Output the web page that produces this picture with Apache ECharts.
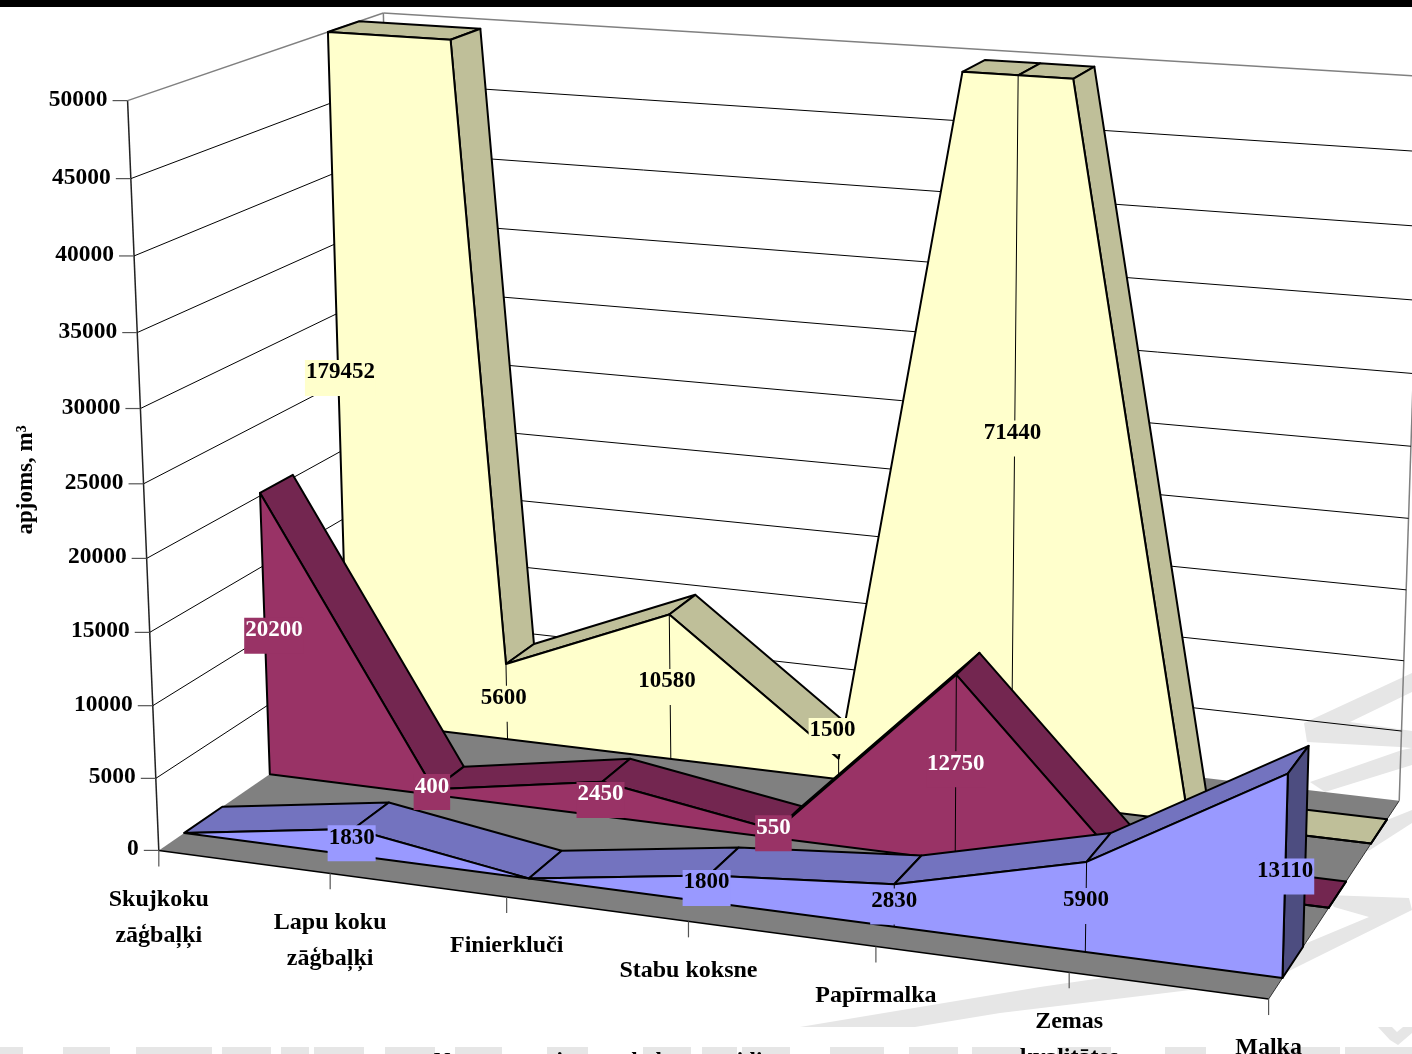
<!DOCTYPE html>
<html><head><meta charset="utf-8">
<style>html,body{margin:0;padding:0;background:#fff}#c{width:1412px;height:1054px}</style>
<script src="https://cdn.jsdelivr.net/npm/echarts@6/dist/echarts.min.js"></script>
</head><body><div id="c"></div>
<script>
const categories = ['Skujkoku\nzāģbaļķi','Lapu koku\nzāģbaļķi','Finierkluči','Stabu koksne','Papīrmalka','Zemas\nkvalitātes\nmalka','Malka'];
const yTicks = [0,5000,10000,15000,20000,25000,30000,35000,40000,45000,50000];
const yellowValues  = [179452,5600,10580,1500,71440,0,0];
const magentaValues = [20200,400,2450,550,12750,0,0];
const blueValues    = [0,1830,0,1800,2830,5900,13110];

const Y_MAX = 50000;
const GRID = {left:0, top:0, width:1000, height:1000};
// camera calibration: box corners (u,h,d) -> screen
const CALIB = [
 [0,0,0,159,851],[0,1,0,127,101],[0,1,1,384,13],[1,0,0,1269,998],
 [1,0,1,1399,802],[0,0,1,401,683],[1,1,1,1423,76]
];
function solveCamera(pts){
  const A=[],b=[];
  pts.forEach(([u,h,d,x,y])=>{
    A.push([u,h,d,1,0,0,0,0,-x*u,-x*h,-x*d]); b.push(x);
    A.push([0,0,0,0,u,h,d,1,-y*u,-y*h,-y*d]); b.push(y);
  });
  const n=11, M=[];
  for(let i=0;i<n;i++){ M[i]=[]; for(let j=0;j<n;j++){let s=0;A.forEach(r=>s+=r[i]*r[j]);M[i][j]=s;}
    let s=0;A.forEach((r,k)=>s+=r[i]*b[k]);M[i][n]=s; }
  for(let i=0;i<n;i++){ let p=i; for(let k=i+1;k<n;k++) if(Math.abs(M[k][i])>Math.abs(M[p][i])) p=k;
    [M[i],M[p]]=[M[p],M[i]];
    for(let k=0;k<n;k++){ if(k===i) continue; const f=M[k][i]/M[i][i]; for(let j=i;j<=n;j++) M[k][j]-=f*M[i][j]; } }
  return M.map((r,i)=>r[n]/r[i]);
}
const CAM = solveCamera(CALIB);
function project(u,h,d){
  const w=CAM[8]*u+CAM[9]*h+CAM[10]*d+1;
  return [(CAM[0]*u+CAM[1]*h+CAM[2]*d+CAM[3])/w,(CAM[4]*u+CAM[5]*h+CAM[6]*d+CAM[7])/w];
}
// scale through the chart's own (hidden) axes, then through the camera
function P(api,cat,val,d){
  const i=Math.min(Math.floor(cat),categories.length-1);
  const a=api.coord([i,val]);
  const b=i<categories.length-1?api.coord([i+1,val]):a;
  const px=a[0]+(b[0]-a[0])*(cat-i);
  return project((px-GRID.left)/GRID.width,(GRID.top+GRID.height-a[1])/GRID.height,d);
}
function clippedLine(vals){
  const out=[];
  vals.forEach((v,i)=>{
    if(i>0){
      const p=vals[i-1];
      if((p>Y_MAX)!==(v>Y_MAX)) out.push({c:i-1+(Y_MAX-p)/(v-p),v:Y_MAX});
    }
    out.push({c:i,v:Math.min(v,Y_MAX)});
  });
  return out;
}
const poly=(pts,fill,stroke,lw)=>({type:'polygon',shape:{points:pts},style:{fill:fill,stroke:stroke||null,lineWidth:lw||0,lineJoin:'round'},silent:true});
const line=(a,b,stroke,lw)=>({type:'line',shape:{x1:a[0],y1:a[1],x2:b[0],y2:b[1]},style:{stroke:stroke,lineWidth:lw},silent:true});
const FONT='"Liberation Serif", serif';

function areaSeries(name,vals,d0,d1,front,top,side,z){
  return {type:'custom',name:name,z:z,silent:true,clip:false,data:vals.map((v,i)=>[i,v]),
    renderItem(params,api){
      const idx=params.dataIndex, children=[];
      if(idx===0){
        const n=params.dataInsideLength, raw=[];
        for(let j=0;j<n;j++) raw.push(api.value(1,j));
        const pl=clippedLine(raw);
        for(let j=0;j<pl.length-1;j++){
          const a=pl[j],b=pl[j+1];
          const q=[P(api,a.c,a.v,d0),P(api,b.c,b.v,d0),P(api,b.c,b.v,d1),P(api,a.c,a.v,d1)];
          let s=0; q.forEach((p,k)=>{const o=q[(k+1)%4]; s+=p[0]*o[1]-o[0]*p[1];});
          if(s<0) children.push(poly(q,top,'#000',2));
        }
        const last=pl[pl.length-1];
        children.push(poly([P(api,last.c,last.v,d0),P(api,last.c,last.v,d1),P(api,last.c,0,d1),P(api,last.c,0,d0)],side,'#000',2));
        const f=pl.map(p=>P(api,p.c,p.v,d0));
        f.push(P(api,last.c,0,d0)); f.push(P(api,pl[0].c,0,d0));
        children.push(poly(f,front,'#000',2));
      }
      const v=Math.min(api.value(1),Y_MAX), c=api.value(0);
      if(v>0 && c>0 && c<categories.length-1) children.push(line(P(api,c,v,d0),P(api,c,0,d0),'#000',1));
      return {type:'group',children:children};
    }};
}

const D = {y:[0.762,0.895], m:[0.429,0.562], b:[0.0947,0.24]};
const labelRows=[];
[[yellowValues,D.y[0],'#FFFFCC','#000'],[magentaValues,D.m[0],'#993366','#fff'],[blueValues,D.b[0],'#9999FF','#000']]
 .forEach(([vals,d,bg,fg])=>vals.forEach((v,i)=>{ if(v>0) labelRows.push({value:[i,v,d],bg:bg,fg:fg}); }));
// small hand offsets of the data labels, keyed by their printed value
const labelNudge={179452:[2,-10],71440:[-2,-12],1500:[-6,-38],5600:[-3,-3],10580:[-3,-5],5900:[0,-6],13110:[0,-5],20200:[9,-4],
  400:[-2,-5],2450:[-2,-4],550:[-3,-6],12750:[0,-4],1830:[-2,-4],1800:[-2,-6],2830:[0,-4]};

const option={
  animation:false, backgroundColor:'#fff',
  grid:Object.assign({containLabel:false},GRID),
  xAxis:{type:'category',data:categories,boundaryGap:false,show:false},
  yAxis:{type:'value',min:0,max:Y_MAX,interval:5000,show:false},
  graphic:{elements:[
    ...[
      [[1412,673],[1304,723],[1307,742],[1400,747],[1412,748],[1412,731],[1350,722],[1412,692]],
      [[1310,782],[1402,750],[1412,748],[1412,765],[1325,792]],
      [[1340,860],[1387,820],[1412,810],[1412,823],[1370,850]],
      [[800,1027],[1040,987],[1260,955],[1302,945],[1369,917],[1334,907],[1327,895],[1409,898],[1412,910],[1305,963],[1285,973],[1207,988],[1000,1013],[915,1027]],
      [[1378,1027],[1392,1027],[1397,1032],[1403,1027],[1412,1027],[1412,1033],[1398,1045],[1390,1040]]
    ].map(s=>({type:'polygon',z:-1,silent:true,shape:{points:s},style:{fill:'#E6E6E6'}})),
    ...[[0,23],[63,110],[136,212],[222,271],[281,309],[314,364],[385,435],[455,502],[547,588],[643,691],[702,737],[742,790],[830,884],[909,958],[972,1021],[1057,1111],[1165,1206],[1278,1340],[1345,1412]]
      .map(([a,b])=>({type:'rect',z:-1,silent:true,shape:{x:a,y:1047,width:b-a,height:7},style:{fill:'#E6E6E6'}})),
    {type:'rect',z:50,silent:true,shape:{x:0,y:0,width:1412,height:7},style:{fill:'#000'}},
    {type:'text',silent:true,x:26,y:480,rotation:Math.PI/2,originX:0,originY:0,
      style:{text:'apjoms, m³',font:'bold 23px '+FONT,fill:'#000',align:'center',verticalAlign:'middle'}},
    {type:'text',silent:true,x:598,y:1062,
      style:{text:'Nozares sortimentu koksnes veidi',font:'bold 23px '+FONT,fill:'#000',align:'center',verticalAlign:'middle'}}
  ]},
  series:[
    {type:'custom',name:'walls',z:1,silent:true,clip:false,data:yTicks.map(t=>[0,t]),
      renderItem(params,api){
        const t=api.value(1), ch=[];
        const fl=P(api,0,t,0), bl=P(api,0,t,1), br=P(api,6,t,1);
        if(params.dataIndex===0){
          ch.push(poly([P(api,0,0,0),P(api,6,0,0),P(api,6,0,1),P(api,0,0,1)],'#808080'));
          ch.push(line(P(api,0,0,0),P(api,6,0,0),'#000',1.5));
          ch.push(line(P(api,6,0,0),P(api,6,0,1),'#333',1));
          ch.push(line(P(api,0,0,0),P(api,0,Y_MAX,0),'#222',1.5));
          ch.push(line(P(api,0,0,1),P(api,0,Y_MAX,1),'#808080',1.5));
          ch.push(line(P(api,6,0,1),P(api,6,Y_MAX,1),'#808080',1.5));
        }
        const top=t===Y_MAX, col=top?'#808080':'#000', lw=top?1.5:1;
        if(t>0){ ch.push(line(fl,bl,col,lw)); ch.push(line(bl,br,col,lw)); }
        ch.push(line([fl[0]-15,fl[1]],fl,'#555',1.2));
        ch.push({type:'text',x:fl[0]-20,y:fl[1]-1,silent:true,
          style:{text:String(t),font:'bold 23.5px '+FONT,fill:'#000',align:'right',verticalAlign:'middle'}});
        return {type:'group',children:ch};
      }},
    areaSeries('Yellow',yellowValues,D.y[0],D.y[1],'#FFFFCC','#BFBF99','#BFBF99',3),
    areaSeries('Magenta',magentaValues,D.m[0],D.m[1],'#993366','#732650','#732650',4),
    areaSeries('Blue',blueValues,D.b[0],D.b[1],'#9999FF','#7373BF','#4D4D80',5),
    {type:'custom',name:'categories',z:6,silent:true,clip:false,data:categories.map((c,i)=>[i,0]),
      renderItem(params,api){
        const p=P(api,api.value(0),0,0);
        return {type:'group',children:[
          line(p,[p[0],p[1]+16],'#555',1.2),
          {type:'text',x:p[0],y:p[1]+31,silent:true,
           style:{text:categories[params.dataIndex],font:'bold 24px '+FONT,lineHeight:36,fill:'#000',align:'center',verticalAlign:'top'}}
        ]};
      }},
    {type:'custom',name:'labels',z:7,silent:true,clip:false,data:labelRows,
      renderItem(params,api){
        const c=api.value(0), v=api.value(1), d=api.value(2), row=labelRows[params.dataIndex];
        const p=P(api,c,Math.min(v,Y_MAX)/2,d), n=labelNudge[v]||[0,0];
        return {type:'text',x:p[0]+n[0],y:p[1]+n[1]-13,silent:true,
          style:{text:String(v),font:'bold 23px '+FONT,fill:row.fg,backgroundColor:row.bg,padding:[1,1,12,1],align:'center',verticalAlign:'top'}};
      }}
  ]
};
const chart=echarts.init(document.getElementById('c'),null,{renderer:'canvas'});
chart.setOption(option);
</script></body></html>
